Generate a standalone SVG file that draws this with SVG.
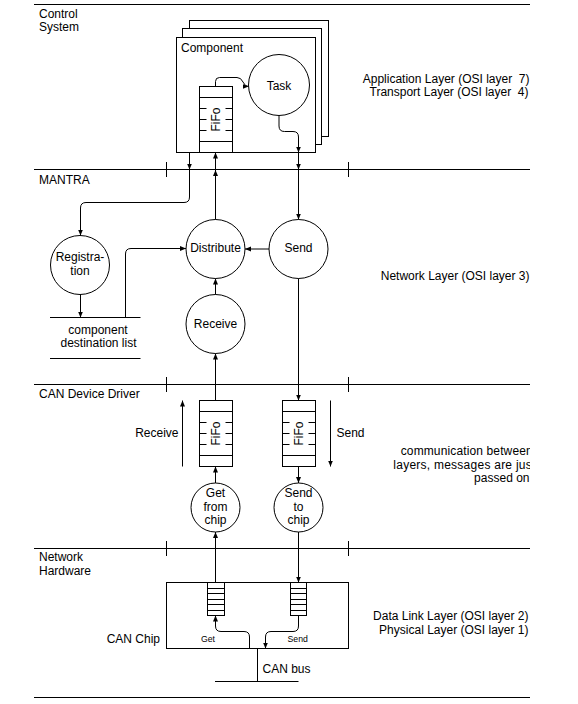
<svg xmlns="http://www.w3.org/2000/svg" width="578" height="704" viewBox="0 0 578 704">
<style>
  text { font-family: "Liberation Sans", Arial, sans-serif; font-size: 12px; fill: #000; white-space: pre; }
  .m { text-anchor: middle; }
  .e { text-anchor: end; }
  .sm { font-size: 8.7px; }
  .ln { fill: none; stroke: #000; stroke-width: 1; }
  .bx { fill: #fff; stroke: #000; stroke-width: 1; }
  .ar { fill: none; stroke: #000; stroke-width: 1; marker-end: url(#ah); }
</style>
<defs>
  <marker id="ah" viewBox="0 0 6 6" refX="6" refY="3" markerWidth="6" markerHeight="6" markerUnits="userSpaceOnUse" orient="auto">
    <path d="M0,0.5 L6,3 L0,5.5 z" fill="#000"/>
  </marker>
  <clipPath id="clipR"><rect x="0" y="0" width="530" height="704"/></clipPath>
</defs>
<rect x="0" y="0" width="578" height="704" fill="#fff"/>

<g id="layers">
  <path class="ln" d="M34,4.5 H530 M34,169.5 H530 M34,384.5 H530 M34,548.5 H530 M34,697.5 H530"/>
  <path class="ln" d="M166.5,162 V177 M348.5,162 V177 M166.5,377 V392 M348.5,377 V392 M166.5,541 V556 M348.5,541 V556"/>
  <text x="39" y="17.5">Control</text>
  <text x="39" y="31">System</text>
  <text x="39" y="183.5">MANTRA</text>
  <text x="39" y="397.7">CAN Device Driver</text>
  <text x="39" y="561">Network</text>
  <text x="39" y="575.3">Hardware</text>
  <text class="e" x="529.5" y="82.5">Application Layer (OSI layer  7)</text>
  <text class="e" x="528.5" y="96">Transport Layer (OSI layer  4)</text>
  <text class="e" x="529.5" y="280">Network Layer (OSI layer 3)</text>
  <text class="e" x="528.5" y="620">Data Link Layer (OSI layer 2)</text>
  <text class="e" x="528.5" y="634">Physical Layer (OSI layer 1)</text>
  <g clip-path="url(#clipR)">
    <text x="400.7" y="455" textLength="132" lengthAdjust="spacing">communication between</text>
    <text x="393.3" y="468.5" textLength="142" lengthAdjust="spacing">layers, messages are just</text>
  </g>
  <text class="e" x="529.5" y="482">passed on</text>
</g>

<g id="component">
  <rect class="bx" x="189.5" y="20.5" width="139" height="116"/>
  <rect class="bx" x="182.5" y="28.5" width="139" height="116"/>
  <rect class="bx" x="176.5" y="37.5" width="139" height="115"/>
  <text x="181" y="51.5">Component</text>
</g>

<g id="task">
  <circle class="bx" cx="279" cy="85" r="30.5"/>
  <text class="m" x="279" y="90">Task</text>
</g>

<g id="fifo-component">
  <rect class="bx" x="199.5" y="86.5" width="33" height="66"/>
  <path class="ln" d="M199.5,97.5 H232.5 M199.5,141.5 H232.5 M199.5,108.5 H206.5 M225.5,108.5 H232.5 M199.5,119.5 H206.5 M225.5,119.5 H232.5 M199.5,130.5 H206.5 M225.5,130.5 H232.5"/>
  <text class="m" transform="translate(219.5,119.5) rotate(-90)">FiFo</text>
</g>

<g id="registration">
  <circle class="bx" cx="80" cy="265" r="29.5"/>
  <text class="m" x="80" y="260.5">Registra-</text>
  <text class="m" x="80" y="274.5">tion</text>
</g>

<g id="distribute">
  <circle class="bx" cx="215.5" cy="249" r="29.5"/>
  <text class="m" x="215.5" y="252">Distribute</text>
</g>

<g id="send">
  <circle class="bx" cx="298.5" cy="249" r="29.5"/>
  <text class="m" x="298.5" y="252">Send</text>
</g>

<g id="receive">
  <circle class="bx" cx="215.5" cy="324" r="29.5"/>
  <text class="m" x="215.5" y="328">Receive</text>
</g>

<g id="destination-list">
  <path class="ln" d="M50,317.5 H140.5 M50,358.5 H140.5"/>
  <text class="m" x="98" y="333.5">component</text>
  <text class="m" x="98.5" y="347">destination list</text>
</g>

<g id="fifo-receive">
  <rect class="bx" x="199.5" y="400.5" width="33" height="66"/>
  <path class="ln" d="M199.5,411.5 H232.5 M199.5,455.5 H232.5 M199.5,422.5 H206.5 M225.5,422.5 H232.5 M199.5,433.5 H206.5 M225.5,433.5 H232.5 M199.5,444.5 H206.5 M225.5,444.5 H232.5"/>
  <text class="m" transform="translate(220,433.5) rotate(-90)">FiFo</text>
</g>

<g id="fifo-send">
  <rect class="bx" x="282.5" y="400.5" width="33" height="66"/>
  <path class="ln" d="M282.5,411.5 H315.5 M282.5,455.5 H315.5 M282.5,422.5 H289.5 M308.5,422.5 H315.5 M282.5,433.5 H289.5 M308.5,433.5 H315.5 M282.5,444.5 H289.5 M308.5,444.5 H315.5"/>
  <text class="m" transform="translate(303,433.5) rotate(-90)">FiFo</text>
</g>

<g id="direction-labels">
  <text class="e" x="178.5" y="436.5">Receive</text>
  <text x="336.5" y="436.5">Send</text>
</g>

<g id="get-from-chip">
  <circle class="bx" cx="215.5" cy="507.5" r="24.5"/>
  <text class="m" x="215.5" y="496.7">Get</text>
  <text class="m" x="215.5" y="510.7">from</text>
  <text class="m" x="215.5" y="524">chip</text>
</g>

<g id="send-to-chip">
  <circle class="bx" cx="298.5" cy="507.5" r="24.5"/>
  <text class="m" x="298.5" y="496.7">Send</text>
  <text class="m" x="298.5" y="510.7">to</text>
  <text class="m" x="298.5" y="524">chip</text>
</g>

<g id="can-chip">
  <rect class="bx" x="166.5" y="582.5" width="182" height="66"/>
  <rect class="bx" x="207.5" y="582.5" width="17" height="33"/>
  <path class="ln" d="M207.5,588.5 H224.5 M207.5,593.5 H224.5 M207.5,599.5 H224.5 M207.5,604.5 H224.5 M207.5,610.5 H224.5"/>
  <rect class="bx" x="290.5" y="582.5" width="16" height="33"/>
  <path class="ln" d="M290.5,588.5 H306.5 M290.5,593.5 H306.5 M290.5,599.5 H306.5 M290.5,604.5 H306.5 M290.5,610.5 H306.5"/>
  <text class="e" x="160" y="642.5">CAN Chip</text>
  <text class="sm" x="201" y="641.5">Get</text>
  <text class="sm" x="287.5" y="641.5">Send</text>
</g>

<g id="can-bus">
  <path class="ln" d="M257.5,648.5 V681.5 M215,681.5 H298.5"/>
  <text x="262.5" y="672.5">CAN bus</text>
</g>

<g id="connectors">
  <path class="ar" d="M215.5,86.5 V81.5 Q215.5,77.5 219.5,77.5 H237 Q241,77.5 243,82 Q245,86.5 248.5,86.5"/>
  <path class="ar" d="M279,115.5 V126 Q279,131.5 284.5,131.5 H293 Q298.5,131.5 298.5,137 V152.5"/>
  <path class="ar" d="M298.5,152.5 V169.5"/>
  <path class="ar" d="M298.5,169.5 V219.5"/>
  <path class="ar" d="M189.5,152.5 V169.5"/>
  <path class="ar" d="M189.5,169.5 V197 Q189.5,202.5 184,202.5 H86 Q80.5,202.5 80.5,208 V235.5"/>
  <path class="ar" d="M215.5,219.5 V170"/>
  <path class="ar" d="M215.5,169.5 V152.5"/>
  <path class="ar" d="M269,249 H245"/>
  <path class="ar" d="M125.5,317.5 V254 Q125.5,248.5 131,248.5 H186"/>
  <path class="ar" d="M80.5,294.5 V317.5"/>
  <path class="ar" d="M215.5,294.5 V278.5"/>
  <path class="ar" d="M215.5,400.5 V353.5"/>
  <path class="ar" d="M298.5,278.5 V400.5"/>
  <path class="ar" d="M182.5,466.5 V400.5"/>
  <path class="ar" d="M330.5,400.5 V466.5"/>
  <path class="ar" d="M215.5,483 V466.5"/>
  <path class="ar" d="M298.5,466.5 V483"/>
  <path class="ar" d="M215.5,582.5 V532"/>
  <path class="ar" d="M298.5,532 V582.5"/>
  <path class="ar" d="M249.5,648.5 V637 Q249.5,631.5 244,631.5 H221 Q215.5,631.5 215.5,626 V615.5"/>
  <path class="ar" d="M298.5,615.5 V626 Q298.5,631.5 293,631.5 H271 Q265.5,631.5 265.5,637 V648.5"/>
</g>
</svg>
